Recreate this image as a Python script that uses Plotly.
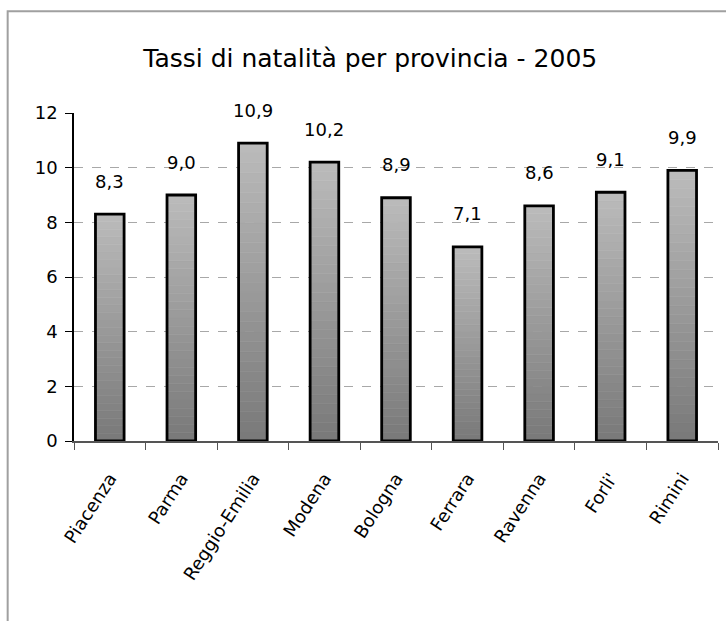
import plotly.graph_objects as go

province = ["Piacenza", "Parma", "Reggio-Emilia", "Modena", "Bologna",
            "Ferrara", "Ravenna", "Forli'", "Rimini"]
tassi = [8.3, 9.0, 10.9, 10.2, 8.9, 7.1, 8.6, 9.1, 9.9]
labels = ["8,3", "9,0", "10,9", "10,2", "8,9", "7,1", "8,6", "9,1", "9,9"]
y_ticks = [0, 2, 4, 6, 8, 10, 12]

FONT = "DejaVu Sans"
N = 30
top_rgb = (186, 186, 186)
bot_rgb = (122, 122, 122)

fig = go.Figure()
for i in range(N):
    t = i / (N - 1)
    c = tuple(round(bot_rgb[k] + (top_rgb[k] - bot_rgb[k]) * t) for k in range(3))
    fig.add_trace(go.Bar(
        x=province,
        y=[v / N for v in tassi],
        base=[v * i / N for v in tassi],
        marker=dict(color="rgb(%d,%d,%d)" % c, line=dict(width=0.6, color="rgb(%d,%d,%d)" % c)),
        showlegend=False, hoverinfo="skip",
    ))
fig.add_trace(go.Bar(
    x=province, y=tassi,
    marker=dict(color="rgba(0,0,0,0)", line=dict(width=2.8, color="black")),
    showlegend=False,
))

for p, v, lab in zip(province, tassi, labels):
    fig.add_annotation(x=p, y=v, text=lab, showarrow=False, yshift=33,
                       yanchor="middle", font=dict(family=FONT, size=18, color="black"))

fig.add_shape(type="rect", xref="paper", yref="paper",
              x0=-0.103, x1=1.03, y0=-0.7, y1=1.31,
              line=dict(color="#a0a0a0", width=2), fillcolor="rgba(0,0,0,0)", layer="below")

fig.update_layout(
    width=726, height=621,
    margin=dict(l=74, r=8, t=113, b=180),
    paper_bgcolor="white", plot_bgcolor="white",
    barmode="overlay", bargap=0.6,
    title=dict(text="Tassi di natalità per provincia - 2005", x=0.51, xanchor="center",
               y=0.907, yanchor="middle",
               font=dict(family=FONT, size=25, color="black")),
    font=dict(family=FONT, size=17, color="black"),
)
fig.update_xaxes(
    showline=True, linecolor="#555555", linewidth=1.5,
    ticks="outside", ticklen=7, tickcolor="#555555", tickson="boundaries",
    tickangle=-57, ticklabelstandoff=18,
    tickfont=dict(family=FONT, size=18, color="black"),
    showgrid=False,
)
fig.update_yaxes(
    range=[0, 12], tickvals=y_ticks, ticktext=[str(v) for v in y_ticks],
    showline=True, linecolor="black", linewidth=1.5,
    ticks="outside", ticklen=7, tickcolor="black", ticklabelstandoff=4,
    showgrid=True, gridcolor="#a8a8a8", griddash="dash", gridwidth=1,
    zeroline=False, tickfont=dict(family=FONT, size=18, color="black"),
)

fig.write_html("out.html", config={"displayModeBar": False},
               post_script="document.body.style.margin='0px';document.body.style.padding='0px';")
